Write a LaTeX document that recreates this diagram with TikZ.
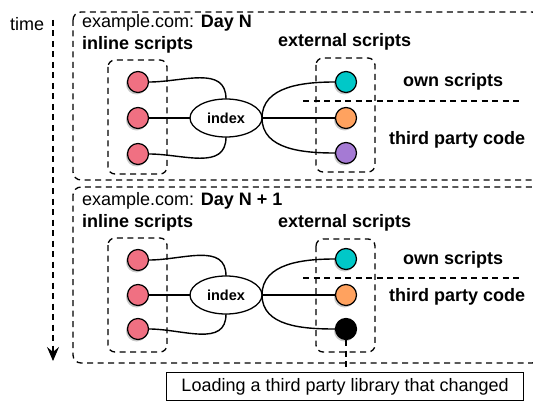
\documentclass[tikz,border=0pt]{standalone}
\usepackage{fontspec}
\setmainfont{Liberation Sans}
\usetikzlibrary{shadows,arrows.meta,shapes.geometric}
\definecolor{inlinepink}{RGB}{240,112,130}
\definecolor{owncyan}{RGB}{0,200,200}
\definecolor{extorange}{RGB}{255,162,95}
\definecolor{extpurple}{RGB}{165,122,212}

\begin{document}
\begin{tikzpicture}[x=1pt,y=1pt,
  dsh/.style={dash pattern=on 6pt off 4.5pt},
  frame/.style={draw, dsh, line width=1.3pt, rounded corners=8pt},
  group/.style={draw, dsh, line width=1.3pt, rounded corners=7pt},
  sep/.style={draw, dsh, line width=1.2pt},
  dot/.style={circle, draw, line width=1.2pt, minimum size=21pt, inner sep=0pt,
    drop shadow={shadow xshift=-1.5pt, shadow yshift=-2pt, opacity=0.35, fill=black!60}},
  idx/.style={ellipse, draw, fill=white, line width=1.3pt, minimum width=72pt,
    minimum height=38pt, inner sep=0pt, font=\fontsize{14.5}{16}\selectfont\bfseries},
  label/.style={anchor=base west, inner sep=0pt, font=\fontsize{18}{20}\selectfont},
  blabel/.style={label, font=\fontsize{18}{20}\selectfont\bfseries},
  link/.style={line width=1.4pt},
]
\useasboundingbox (0,0) rectangle (533,-401);

% time axis
\node[label] (time) at (10,-31) {time};
\coordinate (t0) at (53,-20);
\coordinate (t1) at (53,-361);
\draw[dsh, line width=1.3pt, -{Stealth[length=14pt,width=12pt,inset=5pt]}] (t0) -- (t1);

% ---------- Day N ----------
\draw[frame] (73,-12) rectangle (540,-180);
\node[label] (titleA) at (82,-28) {example.com: \textbf{Day N}};
\node[blabel] (inlA) at (82,-50) {inline scripts};
\node[blabel] (extA) at (278,-47) {external scripts};
\node[blabel] (ownA) at (403,-87) {own scripts};
\node[blabel] (tpcA) at (389,-145) {third party code};

\draw[group] (108,-60) rectangle (167,-174);
\draw[group] (316,-58) rectangle (375,-172);
\coordinate (sepA0) at (303,-101);
\coordinate (sepA1) at (523,-101);
\draw[sep] (sepA0) -- (sepA1);

\node[dot, fill=inlinepink] (a1) at (138,-82) {};
\node[dot, fill=inlinepink] (a2) at (138,-118) {};
\node[dot, fill=inlinepink] (a3) at (138,-154) {};
\node[dot, fill=owncyan] (e1) at (346,-82) {};
\node[dot, fill=extorange] (e2) at (346,-118) {};
\node[dot, fill=extpurple] (e3) at (346,-153) {};

\draw[link] (a1.east) to[out=0,in=90,looseness=1.1] (226,-99);
\draw[link] (a3.east) to[out=0,in=-90,looseness=1.1] (226,-137);
\draw[link] (a2) -- (e2);
\draw[link] (262,-118) to[out=90,in=180] (e1.west);
\draw[link] (262,-118) to[out=-90,in=180] (e3.west);
\node[idx] (ixA) at (226,-118) {index};

% ---------- Day N + 1 ----------
\draw[frame] (73,-187) rectangle (540,-363);
\node[label] (titleB) at (82,-205) {example.com: \textbf{Day N + 1}};
\node[blabel] (inlB) at (82,-227) {inline scripts};
\node[blabel] (extB) at (278,-227) {external scripts};
\node[blabel] (ownB) at (403,-264) {own scripts};
\node[blabel] (tpcB) at (389,-301) {third party code};

\draw[group] (108,-238) rectangle (167,-352);
\draw[group] (316,-239) rectangle (375,-352);
\coordinate (sepB0) at (303,-278);
\coordinate (sepB1) at (523,-278);
\draw[sep] (sepB0) -- (sepB1);

\node[dot, fill=inlinepink] (b1) at (138,-260) {};
\node[dot, fill=inlinepink] (b2) at (138,-295) {};
\node[dot, fill=inlinepink] (b3) at (138,-329) {};
\node[dot, fill=owncyan] (f1) at (346,-259) {};
\node[dot, fill=extorange] (f2) at (346,-295) {};
\node[dot, fill=black] (f3) at (346,-329) {};

\draw[link] (b1.east) to[out=0,in=90,looseness=1.1] (226,-276);
\draw[link] (b3.east) to[out=0,in=-90,looseness=1.1] (226,-314);
\draw[link] (b2) -- (f2);
\draw[link] (262,-295) to[out=90,in=180] (f1.west);
\draw[link] (262,-295) to[out=-90,in=180] (f3.west);
\node[idx] (ixB) at (226,-295) {index};

% callout
\node[draw, line width=1.2pt, anchor=north west, minimum width=357pt, minimum height=28pt,
  inner sep=0pt, font=\fontsize{18}{20}\selectfont] (call) at (166,-372)
  {Loading a third party library that changed};
\draw[dsh, line width=1.2pt] (f3.south) -- (call.north -| f3);
\end{tikzpicture}
\end{document}
